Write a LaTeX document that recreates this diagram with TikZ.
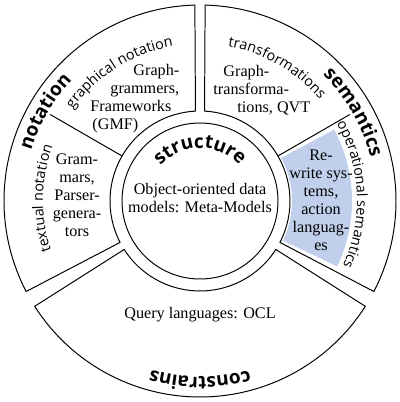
\documentclass[tikz,border=0pt]{standalone}
\usepackage{fontspec}
\setmainfont{Liberation Serif}
\setsansfont{Open Sans}
\usetikzlibrary{decorations.text}
\definecolor{opblue}{RGB}{192,208,236}
\begin{document}
\begin{tikzpicture}[line join=round,line cap=round,line width=0.7pt,
		font=\fontsize{11.5}{12.8}\selectfont,
		body/.style={inner sep=0pt},
		boldlabel/.style={decorate,decoration={text along path,text align=center,
				text={|\sffamily\bfseries\fontsize{13.5}{15}\selectfont|#1}}},
		thinlabel/.style={decorate,decoration={text along path,text align=center,
				text={|\sffamily\fontsize{10.2}{12}\selectfont|#1}}}]
	\def\rc{1.95cm} \def\ri{2.25cm} \def\ro{4.9cm} \def\rd{4.32cm}
	\def\rb{4.4cm} \def\rl{3.925cm} \def\rs{1.325cm}
	\useasboundingbox (-5,-5.025) rectangle (5,5.025);
	\fill[opblue] (28:2.3cm) arc[start angle=28,end angle=-25.5,radius=2.3cm]
	-- (-25.5:3.8cm) arc[start angle=-25.5,end angle=28,radius=3.8cm] -- cycle;
	\draw (0,0) circle[radius=\rc];
	\draw (91.5:\ro) arc[start angle=91.5,end angle=207.5,radius=\ro]
	-- (207.4:\ri) arc[start angle=207.4,end angle=92.9,radius=\ri] -- cycle;
	\draw (88.5:\ro) arc[start angle=88.5,end angle=-27.5,radius=\ro]
	-- (-27.4:\ri) arc[start angle=-27.4,end angle=87.1,radius=\ri] -- cycle;
	\draw (212.5:\ro) arc[start angle=212.5,end angle=327.5,radius=\ro]
	-- (327.4:\ri) arc[start angle=327.4,end angle=212.6,radius=\ri] -- cycle;
	\draw (150:\ri) -- (150:\rd);
	\draw (30:\ri) -- (30:\rd);
	\path[boldlabel=structure] (140:\rs) arc[start angle=140,end angle=40,radius=\rs];
	\path[boldlabel=notation] (190:\rb) arc[start angle=190,end angle=110,radius=\rb];
	\path[boldlabel=semantics] (70:\rb) arc[start angle=70,end angle=-10,radius=\rb];
	\path[boldlabel=constrains] (310:\rb) arc[start angle=310,end angle=230,radius=\rb];
	\path[thinlabel=graphical notation] (162:\rl) arc[start angle=162,end angle=82,radius=\rl];
	\path[thinlabel=textual notation] (219:\rl) arc[start angle=219,end angle=139,radius=\rl];
	\path[thinlabel=transformations] (100:\rl) arc[start angle=100,end angle=20,radius=\rl];
	\path[thinlabel=operational semantics] (42.5:\rl) arc[start angle=42.5,end angle=-37.5,radius=\rl];
	\node[body,align=center] (oodata) at (0,0.075) {Object-oriented data\\models: Meta-Models};
	\node[body,align=center] (ocl) at (0,-2.85) {Query languages: OCL};
	\node[body,align=center] (grammars) at (-3.075,0.15) {Gram-\\mars,\\Parser-\\genera-\\tors};
	\node[body,align=left,anchor=west] (gmf) at (-2.75,2.55)
	{\hspace*{1.075cm}Graph-\\\hspace*{0.5cm}grammers,\\Frameworks\\\hspace*{0.05cm}(GMF)};
	\node[body,align=left,anchor=west] (qvt) at (0.325,2.775)
	{\hspace*{0.25cm}Graph-\\transforma-\\\hspace*{0.6cm}tions, QVT};
	\node[body,align=center] (rewrite) at (3.025,0.025) {Re-\\write sys-\\tems,\\action\\languag-\\es};
\end{tikzpicture}
\end{document}
